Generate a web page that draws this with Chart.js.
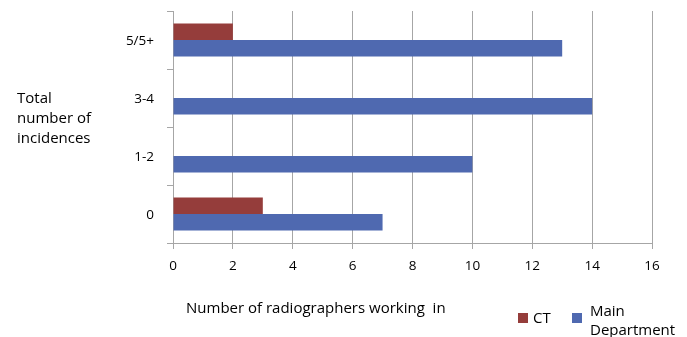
<!DOCTYPE html>
<html>
<head>
<meta charset="utf-8">
<script src="https://cdn.jsdelivr.net/npm/chart.js@4.4.1/dist/chart.umd.min.js"></script>
<style>
  html, body { margin: 0; padding: 0; background: #fff; }
  #wrap { position: relative; width: 687px; height: 337px; font-family: "Open Sans", sans-serif; color: #000; }
  #chart { position: absolute; left: 0; top: 0; }
  .lbl { position: absolute; font-size: 15px; line-height: 20px; white-space: nowrap; }
  .sw { position: absolute; width: 10px; height: 10px; }
</style>
</head>
<body>
<div id="wrap">
  <canvas id="chart" width="687" height="337"></canvas>
  <div class="lbl" style="left:17px; top:87px;">Total<br>number of<br>incidences</div>
  <div class="lbl" style="left:186px; top:297px;">Number of radiographers working&nbsp; in</div>
  <div class="sw" style="left:518px; top:313px; background:#953D3B;"></div>
  <div class="lbl" style="left:533px; top:307px;">CT</div>
  <div class="sw" style="left:572px; top:313px; background:#4F69B0;"></div>
  <div class="lbl" style="left:590px; top:301px; line-height:19px;">Main<br>Department</div>
</div>
<script>
// Incidence bands, top to bottom
const categories = ["5/5+", "3-4", "1-2", "0"];
// Radiographers per band
const ctValues = [2, 0, 0, 3];
const mainValues = [13, 14, 10, 7];
const seriesNames = ["CT", "Main Department"];

const gridGrey = "#A6A6A6";

new Chart(document.getElementById("chart"), {
  type: "bar",
  data: {
    labels: categories,
    datasets: [
      { label: seriesNames[0], data: ctValues, backgroundColor: "#953D3B" },
      { label: seriesNames[1], data: mainValues, backgroundColor: "#4F69B0" }
    ]
  },
  options: {
    indexAxis: "y",
    responsive: false,
    animation: false,
    maintainAspectRatio: false,
    layout: { padding: { top: 11, right: 35, left: 0, bottom: 0 } },
    datasets: { bar: { categoryPercentage: 0.57, barPercentage: 1.0 } },
    plugins: { legend: { display: false }, tooltip: { enabled: false } },
    scales: {
      x: {
        min: 0, max: 16,
        ticks: { stepSize: 2, color: "#000", padding: 9, font: { family: "Open Sans", size: 13.5 } },
        grid: { color: gridGrey, lineWidth: 1, tickLength: 6, drawTicks: true },
        border: { color: gridGrey, width: 1 },
        afterFit: s => { s.height = 94; s.paddingLeft = 0; s.paddingRight = 0; }
      },
      y: {
        ticks: { color: "#000", padding: 13, labelOffset: 1, font: { family: "Open Sans", size: 13.5 } },
        grid: { drawOnChartArea: false, color: gridGrey, tickLength: 6, offset: true },
        border: { color: gridGrey, width: 1 },
        afterFit: s => { s.width = 173; s.paddingTop = 0; s.paddingBottom = 0; }
      }
    }
  }
});
</script>
</body>
</html>
